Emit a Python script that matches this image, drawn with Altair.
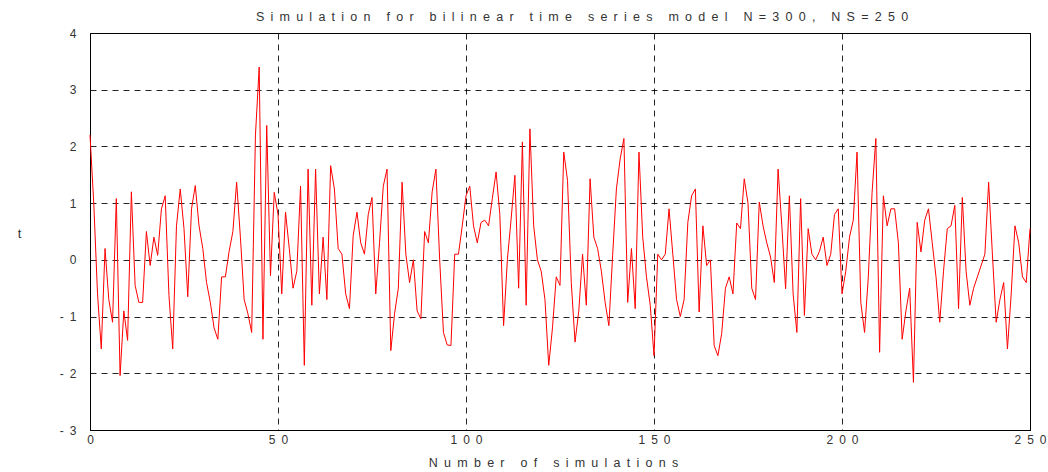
import altair as alt
import pandas as pd

# values of the simulated series (index 0..250)
t_values = [
    2.2, 1.0, -0.6, -1.57, 0.2, -0.7, -1.1, 1.08, -2.04, -0.9,
    -1.42, 1.2, -0.45, -0.75, -0.75, 0.5, -0.1, 0.4, 0.08, 0.9,
    1.13, -0.63, -1.57, 0.6, 1.25, 0.55, -0.65, 0.9, 1.31, 0.6,
    0.2, -0.4, -0.75, -1.2, -1.4, -0.3, -0.3, 0.15, 0.5, 1.37,
    0.4, -0.7, -0.95, -1.28, 2.2, 3.4, -1.4, 2.37, -0.28, 1.19,
    0.8, -0.6, 0.84, 0.2, -0.5, -0.2, 1.3, -1.86, 1.6, -0.8,
    1.6, -0.6, 0.4, -0.7, 1.66, 1.25, 0.2, 0.1, -0.6, -0.86,
    0.43, 0.84, 0.3, 0.1, 0.8, 1.1, -0.6, 0.3, 1.3, 1.6,
    -1.6, -0.95, -0.5, 1.37, 0.1, -0.4, 0.0, -0.9, -1.04, 0.5,
    0.3, 1.2, 1.6, 0.0, -1.28, -1.5, -1.51, 0.1, 0.1, 0.6,
    1.13, 1.3, 0.6, 0.3, 0.66, 0.7, 0.6, 1.08, 1.55, 0.8,
    -1.16, 0.0, 0.72, 1.49, -0.5, 2.08, -0.8, 2.31, 0.6, 0.0,
    -0.2, -0.7, -1.86, -1.2, -0.3, -0.45, 1.9, 1.4, -0.4, -1.45,
    -0.9, 0.1, -0.8, 1.43, 0.4, 0.2, -0.2, -0.75, -1.16, 0.08,
    1.25, 1.78, 2.14, -0.75, 0.2, -0.86, 1.9, 0.4, -0.3, -0.8,
    -1.69, 0.1, 0.0, 0.1, 0.9, 0.1, -0.7, -1.0, -0.7, 0.66,
    1.13, 1.25, -0.92, 0.6, -0.1, 0.0, -1.51, -1.69, -1.3, -0.5,
    -0.3, -0.6, 0.65, 0.55, 1.43, 1.0, -0.5, -0.7, 1.02, 0.6,
    0.3, 0.05, -0.4, 1.6, 0.6, -0.51, 1.13, -0.6, -1.28, 1.08,
    -0.98, 0.55, 0.1, 0.0, 0.15, 0.4, -0.1, 0.1, 0.8, 0.9,
    -0.6, -0.2, 0.4, 0.7, 1.9, -0.75, -1.28, -0.3, 1.19, 2.14,
    -1.63, 1.13, 0.6, 0.9, 0.9, 0.3, -1.4, -0.9, -0.5, -2.16,
    0.66, 0.14, 0.7, 0.9, 0.3, -0.3, -1.1, -0.2, 0.55, 0.6,
    0.96, -0.86, 1.1, -0.2, -0.8, -0.5, -0.3, -0.1, 0.1, 1.37,
    0.1, -1.1, -0.7, -0.4, -1.57, -0.6, 0.6, 0.3, -0.3, -0.4,
    0.55,
]
sim_index = list(range(len(t_values)))

x_ticks = [0, 50, 100, 150, 200, 250]
y_ticks = [-3, -2, -1, 0, 1, 2, 3, 4]

title_text = "Simulation for bilinear time series model N=300, NS=250"
x_title = "Number of simulations"
y_title = "t"

SP = "\u2002"  # wide letter spacing as in the reference


def spaced(s):
    return (SP + " " + SP).join(SP.join(w) for w in s.split(" "))


df = pd.DataFrame({"n": sim_index, "t": t_values})

FONT = "Liberation Sans"
TXT = "#333333"

chart = (
    alt.Chart(df)
    .mark_line(color="#ff0000", strokeWidth=1)
    .encode(
        x=alt.X(
            "n:Q",
            scale=alt.Scale(domain=[0, 250], nice=False, zero=False),
            axis=alt.Axis(
                values=x_ticks,
                title=spaced(x_title),
                labelExpr=f"join(split(datum.label, ''), '{SP}')",
                labelPadding=4,
                ticks=False,
                grid=True,
                gridColor="#000000",
                gridDash=[6, 5],
                gridWidth=1,
                gridOpacity=0.85,
                domainColor="#000000",
                labelFont=FONT,
                labelFontSize=12,
                labelColor=TXT,
                titleFont=FONT,
                titleFontSize=12.5,
                titleFontWeight="normal",
                titleColor=TXT,
                titleY=32,
                titleX=463,
                titleBaseline="middle",
                labelFlush=False,
            ),
        ),
        y=alt.Y(
            "t:Q",
            scale=alt.Scale(domain=[-3, 4], nice=False, zero=False),
            axis=alt.Axis(
                values=y_ticks,
                title=y_title,
                labelExpr=f"join(split(replace(datum.label, '\u2212', '-'), ''), '{SP}')",
                labelPadding=14,
                ticks=False,
                grid=True,
                gridColor="#000000",
                gridDash=[6, 5],
                gridWidth=1,
                gridOpacity=0.85,
                domainColor="#000000",
                labelFont=FONT,
                labelFontSize=12,
                labelColor=TXT,
                titleFont=FONT,
                titleFontSize=13,
                titleFontWeight="normal",
                titleColor=TXT,
                titleAngle=0,
                titleX=-71,
                titleY=200,
                titleAlign="center",
                titleBaseline="middle",
                labelFlush=False,
            ),
        ),
    )
    .properties(
        width=940,
        height=397,
        autosize=alt.AutoSizeParams(type="none"),
        padding={"left": 90, "top": 33, "right": 18, "bottom": 42},
        title=alt.TitleParams(
            text=spaced(title_text),
            font=FONT,
            fontSize=12.5,
            fontWeight="normal",
            color=TXT,
            anchor="middle",
            offset=4,
            dx=22,
        ),
        background="white",
    )
    .configure_view(stroke="#000000", strokeWidth=1)
)

chart.save("out.html", embed_options={"renderer": "svg", "actions": False})
